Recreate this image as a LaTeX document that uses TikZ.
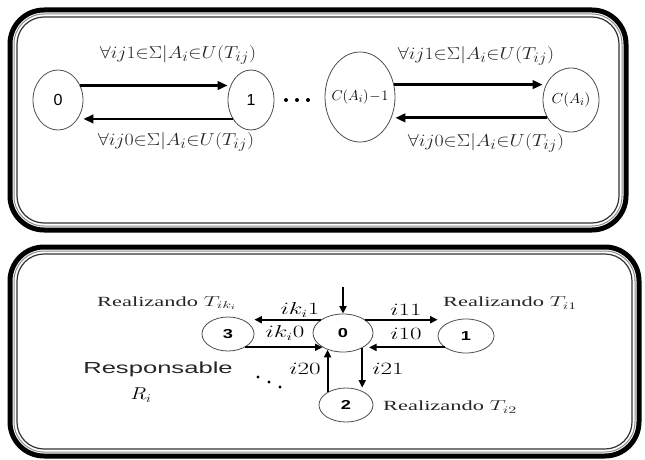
\documentclass[tikz,border=0pt]{standalone}
\usepackage{fontspec}
\setmainfont{Liberation Serif}
\setsansfont{Liberation Sans}
\usepackage{graphicx}
\usetikzlibrary{shapes.geometric,arrows.meta}
\newcommand{\hstr}[2]{\scalebox{#1}[1]{#2}}
\newcommand{\tlabel}[1]{$\forall ij#1{\in}\Sigma|A_i{\in}U\Bigl(T_{ij}\Bigr)$}
\tikzset{
  frameO/.style={line width=5pt, rounded corners=34pt, draw=black},
  frameM/.style={line width=1pt, rounded corners=30pt, draw=black!45},
  frameI/.style={line width=1.2pt, rounded corners=27pt, draw=black!80},
  tstate/.style={ellipse, draw=black!70, line width=0.8pt, inner sep=0pt},
  bstate/.style={ellipse, draw=black!70, line width=0.8pt, inner sep=0pt,
                 minimum height=34pt, font=\fontsize{13}{15}\selectfont\sffamily\bfseries},
  tarr/.style={line width=2.8pt, -{Triangle[length=10pt,width=8.5pt]}},
  barr/.style={line width=2pt, -{Triangle[length=7.5pt,width=7pt]}},
  tlab/.style={inner sep=0pt, text=black!85, font=\fontsize{19}{22}\selectfont},
  blab/.style={inner sep=0pt, font=\fontsize{16}{18}\selectfont},
  btext/.style={inner sep=0pt, text=black!85, font=\fontsize{14}{17}\selectfont},
  dotb/.style={fill=black},
}
\begin{document}
\begin{tikzpicture}[x=1pt,y=-1pt]
\useasboundingbox (0,0) rectangle (645,460);
% ---------- top panel frame ----------
\draw[frameO] (10,10) rectangle (626,230);
\draw[frameM] (14,14) rectangle (622,226);
\draw[frameI] (17,17) rectangle (619,223);
% ---------- bottom panel frame ----------
\draw[frameO] (10,247) rectangle (639,456);
\draw[frameM] (14,251) rectangle (635,452);
\draw[frameI] (17,254) rectangle (632,449);

% ---------- top states ----------
\node[tstate, minimum width=50pt, minimum height=60pt,
      font=\fontsize{16}{18}\selectfont\sffamily] (n0) at (58,100) {0};
\node[tstate, minimum width=46pt, minimum height=60pt,
      font=\fontsize{16}{18}\selectfont\sffamily] (n1) at (251,100) {1};
\node[tstate, minimum width=70pt, minimum height=90pt,
      font=\fontsize{15}{17}\selectfont] (nC1) at (360,97)
      {\makebox[0pt]{\hstr{1.0}{$C(A_i)\!-\!1$}}};
\node[tstate, minimum width=56pt, minimum height=64pt,
      font=\fontsize{15}{17}\selectfont] (nC) at (571,100)
      {\makebox[0pt]{\hstr{1.05}{$C(A_i)$}}};

\fill[dotb] (286,100) circle (2pt) (297,100) circle (2pt) (308,100) circle (2pt);

% ---------- top transitions ----------
\draw[tarr] (n0.33) -- (n0.33 -| n1.west);
\draw[tarr] (n1.226) -- (n1.226 -| n0.east);
\draw[tarr] (nC1.20) -- (nC1.20 -| nC.west);
\draw[tarr] (nC.217) -- (nC.217 -| nC1.east);

\node[tlab] (l01) at (178,55) {\hstr{1.15}{\tlabel{1}}};
\node[tlab] (l10) at (176,142) {\hstr{1.15}{\tlabel{0}}};
\node[tlab] (l23) at (476,56) {\hstr{1.15}{\tlabel{1}}};
\node[tlab] (l32) at (486,143) {\hstr{1.15}{\tlabel{0}}};

% ---------- bottom states ----------
\node[bstate, minimum width=60pt, minimum height=38pt] (b0) at (343,333) {\hstr{1.4}{0}};
\node[bstate, minimum width=52pt] (b3) at (228,334) {\hstr{1.4}{3}};
\node[bstate, minimum width=56pt] (b1) at (466,336) {\hstr{1.4}{1}};
\node[bstate, minimum width=54pt] (b2) at (346,405) {\hstr{1.4}{2}};
\coordinate (bstart) at (343,287);

% ---------- bottom transitions ----------
\draw[barr] (bstart) -- (b0.north);
\draw[barr] (b0.149) -- (b0.149 -| b3.east);
\draw[barr] (b3.322) -- (b3.322 -| b0.215);
\draw[barr] (b0.31) -- (b0.31 -| b1.west);
\draw[barr] (b1.208) -- (b1.208 -| b0.339);
\draw[barr] (b0.322) -- (b0.322 |- b2.north);
\draw[barr] (b2.145) -- (b2.145 |- b0.228);

\node[blab] (t31) at (300,310) {\hstr{1.45}{$ik_i1$}};
\node[blab] (t30) at (285,333) {\hstr{1.45}{$ik_i0$}};
\node[blab] (t11) at (406,310) {\hstr{1.45}{$i11$}};
\node[blab] (t10) at (406,334) {\hstr{1.45}{$i10$}};
\node[blab] (t20) at (305,369) {\hstr{1.45}{$i20$}};
\node[blab] (t21) at (388,369) {\hstr{1.45}{$i21$}};

\node[btext, anchor=west] (r3) at (97,303) {\hstr{1.6}{Realizando $T_{ik_i}$}};
\node[btext, anchor=west] (r1) at (443,303) {\hstr{1.6}{Realizando $T_{i1}$}};
\node[btext, anchor=west] (r2) at (383,407) {\hstr{1.6}{Realizando $T_{i2}$}};
\node[inner sep=0pt, text=black!85, font=\fontsize{16}{18}\selectfont\sffamily] (resp) at (158,369)
      {\hstr{1.6}{Responsable}};
\node[inner sep=0pt, font=\fontsize{18}{20}\selectfont] (ri) at (141,395) {\hstr{1.2}{$R_i$}};

\fill[dotb] (258,377) circle (1.6pt) (269,382) circle (1.6pt) (280,387) circle (1.6pt);
\end{tikzpicture}
\end{document}
